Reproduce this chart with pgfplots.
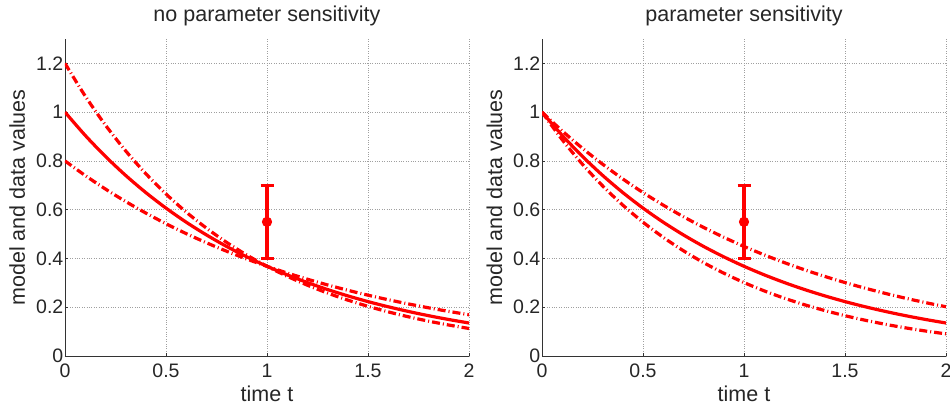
\documentclass[border=0pt]{standalone}
\usepackage{fontspec}
\setmainfont{Liberation Sans}
\usepackage{pgfplots}
\usepackage{pgfplotstable}
\pgfplotsset{compat=1.18}

% t, nominal model, two sensitivity curves
\pgfplotstableread{
t    y      a      b
0.0  1.0000 1.2000 0.8000
0.1  0.9048 1.0661 0.7402
0.2  0.8187 0.9472 0.6848
0.3  0.7408 0.8416 0.6337
0.4  0.6703 0.7478 0.5863
0.5  0.6065 0.6644 0.5425
0.6  0.5488 0.5903 0.5019
0.7  0.4966 0.5245 0.4645
0.8  0.4493 0.4660 0.4297
0.9  0.4066 0.4141 0.3976
1.0  0.3679 0.3679 0.3679
1.1  0.3329 0.3269 0.3404
1.2  0.3012 0.2904 0.3149
1.3  0.2725 0.2580 0.2914
1.4  0.2466 0.2293 0.2696
1.5  0.2231 0.2037 0.2494
1.6  0.2019 0.1810 0.2308
1.7  0.1827 0.1608 0.2136
1.8  0.1653 0.1429 0.1976
1.9  0.1496 0.1270 0.1829
2.0  0.1353 0.1128 0.1691
}\nosens

\pgfplotstableread{
t    y      a      b
0.0  1.0000 1.0000 1.0000
0.1  0.9048 0.9231 0.8869
0.2  0.8187 0.8521 0.7866
0.3  0.7408 0.7866 0.6977
0.4  0.6703 0.7261 0.6188
0.5  0.6065 0.6703 0.5488
0.6  0.5488 0.6188 0.4868
0.7  0.4966 0.5712 0.4317
0.8  0.4493 0.5273 0.3829
0.9  0.4066 0.4868 0.3396
1.0  0.3679 0.4493 0.3012
1.1  0.3329 0.4148 0.2671
1.2  0.3012 0.3829 0.2369
1.3  0.2725 0.3535 0.2101
1.4  0.2466 0.3263 0.1864
1.5  0.2231 0.3012 0.1653
1.6  0.2019 0.2780 0.1466
1.7  0.1827 0.2567 0.1300
1.8  0.1653 0.2369 0.1153
1.9  0.1496 0.2187 0.1023
2.0  0.1353 0.2019 0.0907
}\sens

\pgfplotsset{
  mlab/.style={
    scale only axis, width=404pt, height=317pt,
    xmin=0, xmax=2, ymin=0, ymax=1.3,
    xtick={0,0.5,1,1.5,2}, ytick={0,0.2,0.4,0.6,0.8,1,1.2},
    axis x line*=bottom, axis y line*=left,
    axis line style={-, black!80, line width=0.8pt},
    tick align=inside, major tick length=3pt,
    tick style={black!80, line width=0.6pt},
    grid=major, major grid style={dotted, gray!75, line width=0.6pt},
    /pgf/number format/assume math mode=true,
    tick label style={font=\fontsize{19.5}{22}\selectfont, text=black!85},
    yticklabel style={inner sep=1.5pt},
    xticklabel style={yshift=-4.5pt},
    label style={font=\fontsize{21.5}{24}\selectfont, text=black!85},
    title style={font=\fontsize{21.5}{24}\selectfont, text=black!85,
      at={(axis description cs:0.5,1)}, anchor=base, yshift=11.3pt},
    xlabel style={at={(axis description cs:0.5,0)}, anchor=base, yshift=-45.7pt},
    ylabel style={at={(axis description cs:0,0.5)}, anchor=base, yshift=40pt},
    xlabel={time t}, ylabel={model and data values},
  },
  model/.style={red, line width=3.2pt, smooth, no marks},
  band/.style={red, line width=3.2pt, smooth, no marks,
    dash pattern=on 8pt off 3pt on 1pt off 3pt},
  datapt/.style={red, line width=3.4pt, mark=*, mark size=4.6pt,
    mark options={solid, fill=red, line width=1pt},
    error bars/.cd, y dir=both, y explicit,
    error bar style={red, line width=3.4pt},
    error mark options={rotate=90, red, line width=3.4pt, mark size=6.5pt}},
}

\begin{document}
\begin{tikzpicture}
\begin{axis}[mlab, at={(0pt,0pt)}, anchor=south west,
  title={no parameter sensitivity}]
  \addplot[band] table[x=t, y=a] {\nosens};
  \addplot[band] table[x=t, y=b] {\nosens};
  \addplot[model] table[x=t, y=y] {\nosens};
  \addplot[datapt] coordinates {(1,0.55) +- (0,0.15)};
\end{axis}
\begin{axis}[mlab, at={(477pt,0pt)}, anchor=south west,
  title={parameter sensitivity}]
  \addplot[band] table[x=t, y=a] {\sens};
  \addplot[band] table[x=t, y=b] {\sens};
  \addplot[model] table[x=t, y=y] {\sens};
  \addplot[datapt] coordinates {(1,0.55) +- (0,0.15)};
\end{axis}
\pgfresetboundingbox
\path[use as bounding box] (-65pt,-51pt) rectangle (885pt,356pt);
\end{tikzpicture}
\end{document}
